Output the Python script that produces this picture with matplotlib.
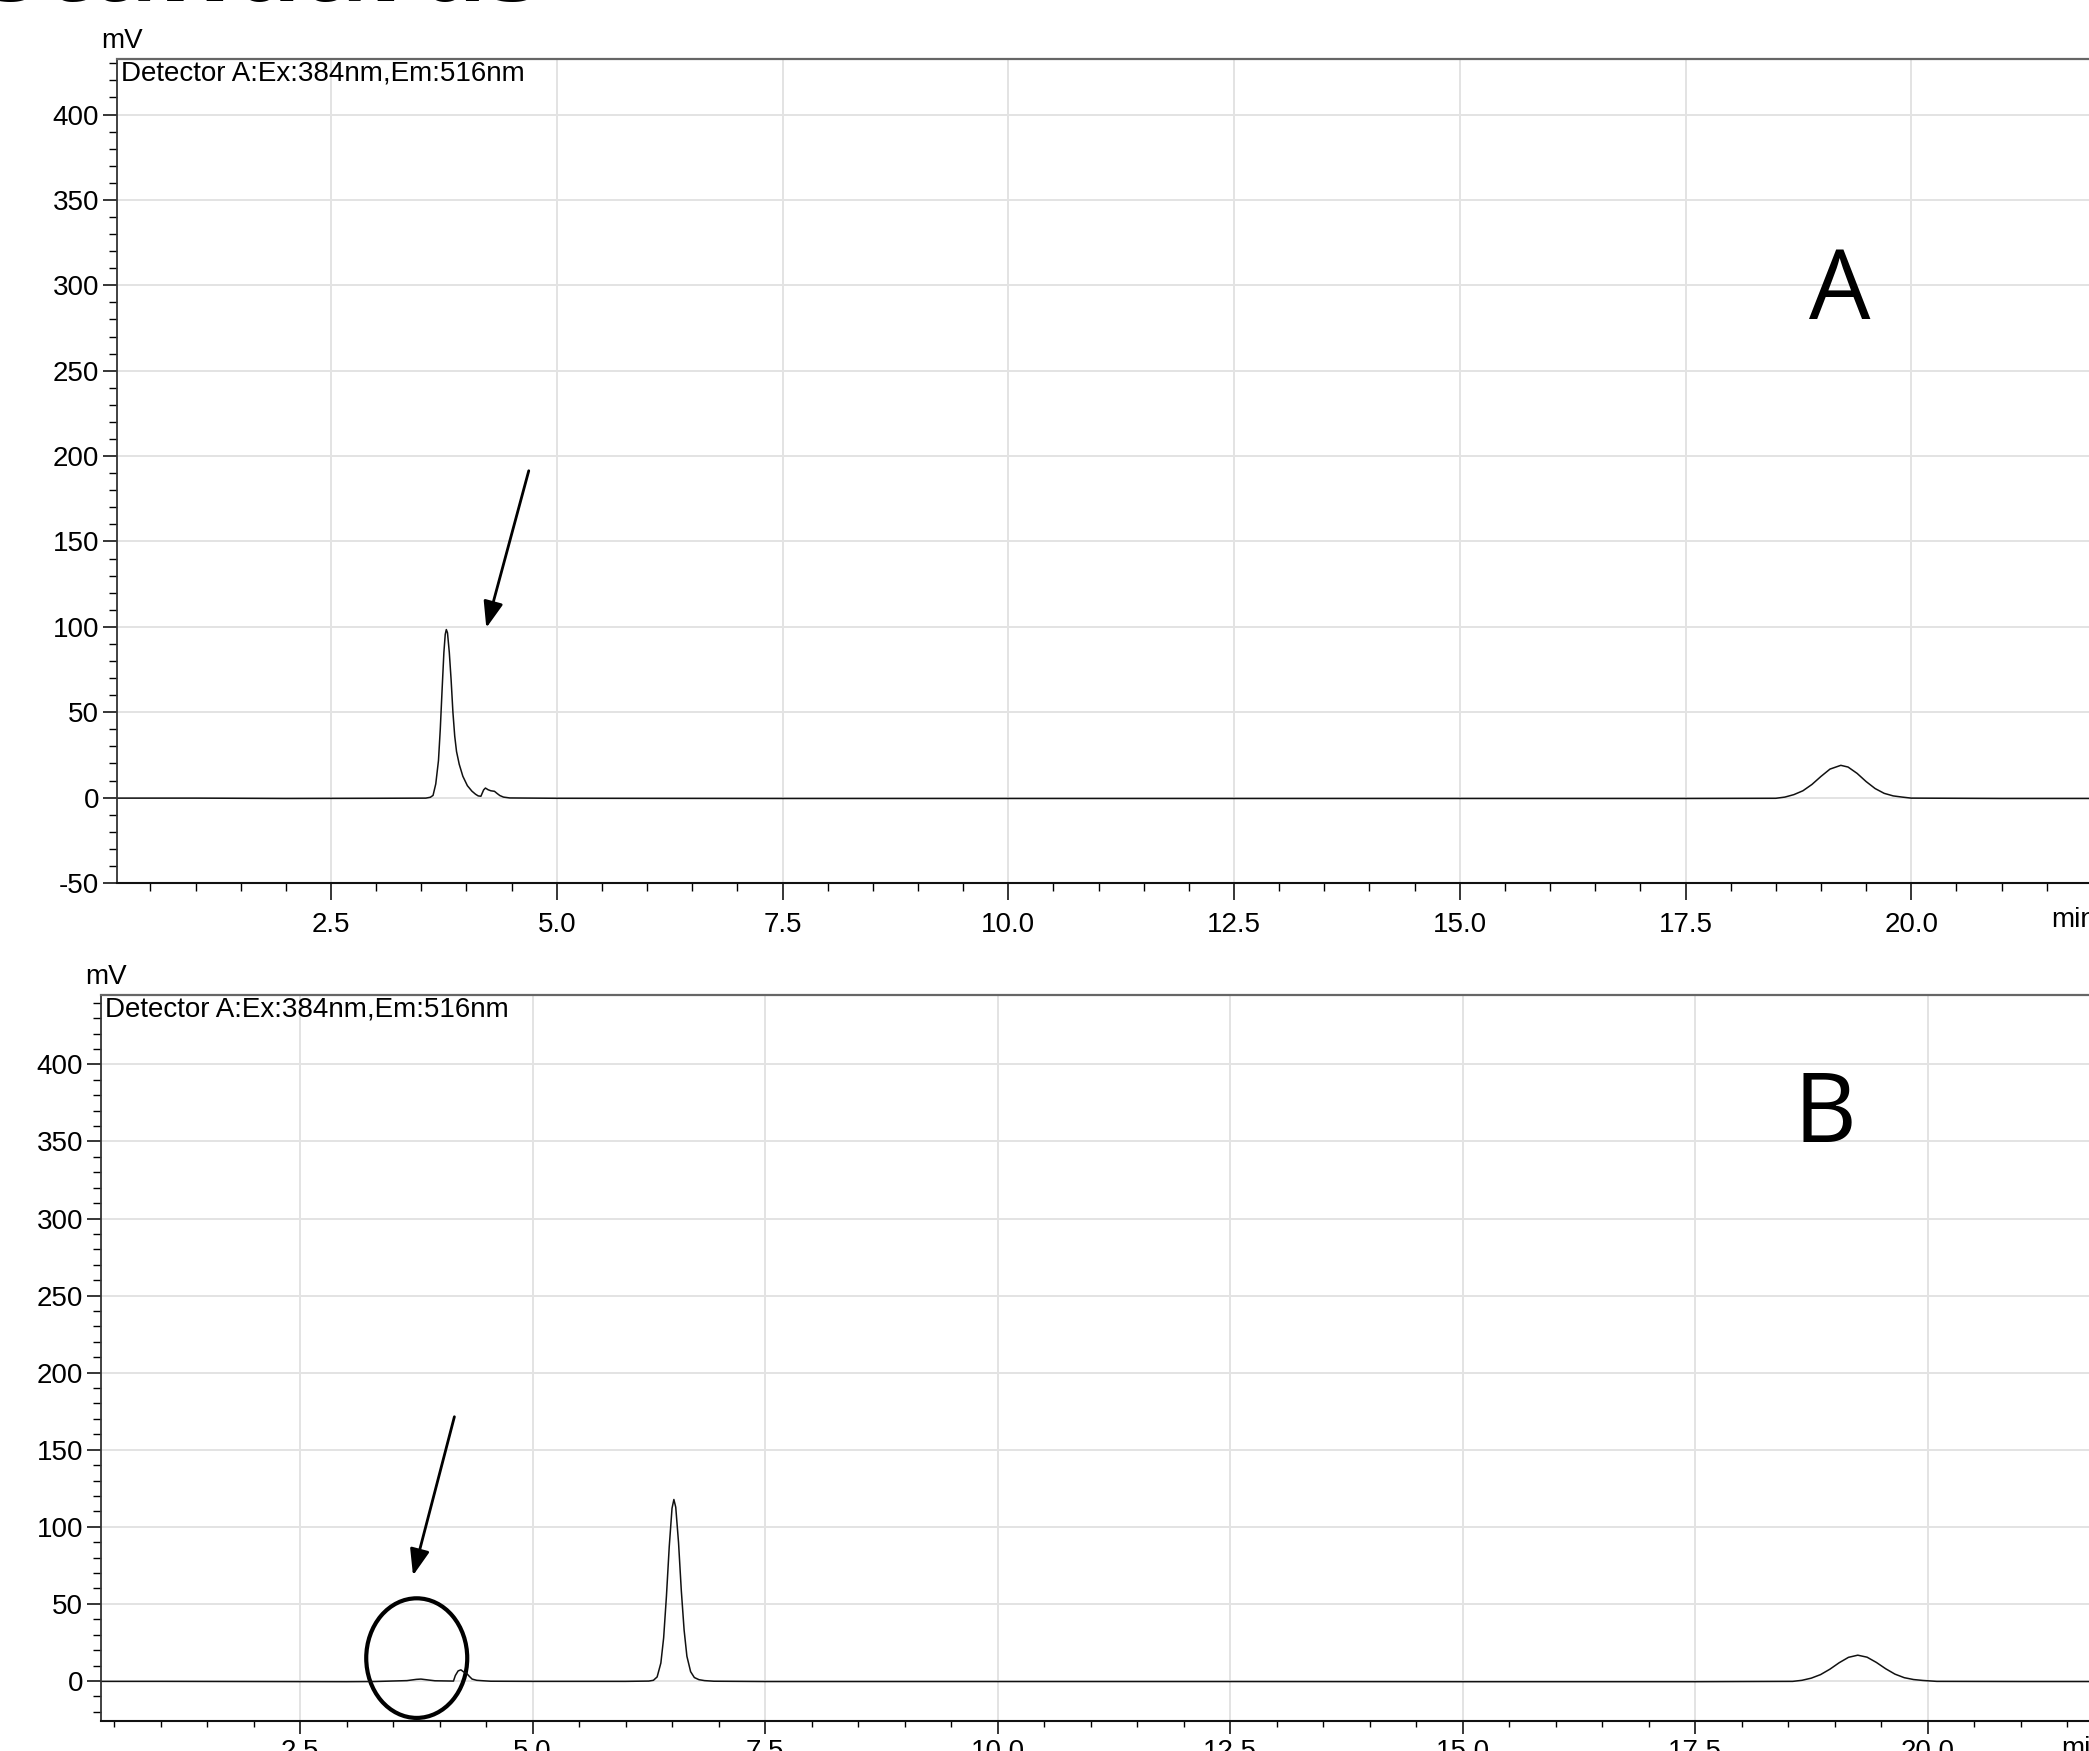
import matplotlib
matplotlib.use("Agg")
import matplotlib.pyplot as plt
from matplotlib.patches import Ellipse
from matplotlib.ticker import MultipleLocator, FormatStrFormatter

plt.rcParams['font.family'] = ['Liberation Sans', 'DejaVu Sans']
plt.rcParams['axes.unicode_minus'] = False

a_time = [0.13, 1.0, 2.0, 3.0, 3.55,
          3.60, 3.63, 3.66, 3.69, 3.71,
          3.73, 3.75, 3.765, 3.777, 3.79,
          3.81, 3.83, 3.85, 3.87, 3.89,
          3.92, 3.96, 4.01, 4.06, 4.10,
          4.13, 4.16, 4.19, 4.21, 4.24,
          4.27, 4.31, 4.34, 4.37, 4.41,
          4.48, 5.0, 7.5, 10.0, 12.5,
          15.0, 17.5, 18.5, 18.6, 18.7,
          18.8, 18.9, 19.0, 19.1, 19.22,
          19.3, 19.4, 19.5, 19.6, 19.7,
          19.8, 19.9, 20.0, 21.0, 22.5]
a_mv = [-0.3, -0.3, -0.5, -0.4, -0.3,
        0.2, 1.3, 8.0, 21.7, 40,
        63, 85, 95.6, 98.4, 96.5,
        85, 69, 50, 36, 27,
        19.5, 12.5, 7.0, 3.8, 2.0,
        1.0, 0.8, 4.5, 5.6, 4.6,
        4.0, 3.7, 2.4, 1.2, 0.3,
        -0.2, -0.4, -0.5, -0.5, -0.5,
        -0.5, -0.5, -0.4, 0.3, 1.75,
        4.0, 7.7, 12.4, 16.7, 18.9,
        17.9, 14.2, 9.4, 5.3, 2.5,
        1.0, 0.3, -0.3, -0.5, -0.5]

# trace B
b_time = [0.36, 1.0, 2.0, 3.0, 3.3,
          3.65, 3.75, 3.80, 3.88, 3.95,
          4.15, 4.17, 4.20, 4.23, 4.26,
          4.29, 4.32, 4.35, 4.40, 4.47,
          4.55, 5.0, 6.0, 6.25, 6.30,
          6.34, 6.38, 6.41, 6.44, 6.47,
          6.50, 6.52, 6.54, 6.57, 6.60,
          6.63, 6.66, 6.70, 6.74, 6.79,
          6.85, 6.95, 7.5, 10.0, 12.5,
          15.0, 17.5, 18.55, 18.65, 18.75,
          18.85, 18.95, 19.05, 19.15, 19.25,
          19.35, 19.45, 19.55, 19.65, 19.75,
          19.85, 19.95, 20.1, 21.0, 22.5]
b_mv = [-0.3, -0.3, -0.4, -0.5, -0.4,
        0.2, 1.0, 1.2, 0.6, 0.1,
        -0.1, 3.5, 6.5, 7.2, 5.8,
        5.0, 3.0, 1.2, 0.4, 0.1,
        -0.2, -0.3, -0.3, -0.1, 0.4,
        2.6, 11.6, 28, 55, 87,
        112, 117.7, 112.7, 89.8, 58.5,
        33, 16, 6, 2.2, 0.8,
        0.2, -0.2, -0.4, -0.4, -0.4,
        -0.5, -0.5, -0.3, 0.4, 1.8,
        4.1, 7.6, 11.8, 15.3, 16.7,
        15.4, 12.0, 7.9, 4.4, 2.1,
        0.9, 0.3, -0.3, -0.4, -0.4]

detector = "Detector A:Ex:384nm,Em:516nm"
panel_labels = ["A", "B"]

W, H = 2089, 1751
fig = plt.figure(figsize=(W / 100, H / 100), dpi=100)

# cropped heading at the very top of the screenshot
fig.text(-0.008, 1 - 1 / H, "Standards", fontsize=80, fontweight='bold',
         family=['Open Sans', 'DejaVu Sans'], va='baseline', ha='left')

# axes boxes in pixels
axA = fig.add_axes([117 / W, 1 - 883 / H, (22.5 - 0.13) * 90.3 / W, (883 - 59) / H])
axB = fig.add_axes([101 / W, 1 - 1721 / H, (22.5 - 0.36) * 93.0 / W, (1721 - 995) / H])


def style(ax, xmin, ylim, xtick_len, xtick_pad):
    ax.set_xlim(xmin, 22.5)
    ax.set_ylim(*ylim)
    ax.xaxis.set_major_locator(MultipleLocator(2.5))
    ax.xaxis.set_minor_locator(MultipleLocator(0.5))
    ax.xaxis.set_major_formatter(FormatStrFormatter('%.1f'))
    ax.yaxis.set_major_locator(MultipleLocator(50))
    ax.yaxis.set_minor_locator(MultipleLocator(10))
    ax.yaxis.set_major_formatter(FormatStrFormatter('%d'))
    ax.grid(True, which='major', color='#e3e3e3', lw=1.4)
    ax.set_axisbelow(True)
    ax.tick_params(axis='x', which='major', direction='out', length=xtick_len, width=1.1,
                   pad=xtick_pad, labelsize=20)
    ax.tick_params(axis='x', which='minor', direction='out', length=xtick_len / 2, width=1.0)
    ax.tick_params(axis='y', which='major', direction='out', length=10, width=1.1,
                   pad=3, labelsize=20)
    ax.tick_params(axis='y', which='minor', direction='out', length=5.5, width=1.0)
    ax.spines['right'].set_visible(False)
    ax.spines['top'].set_color('#666666')
    ax.spines['top'].set_linewidth(1.6)
    ax.spines['left'].set_color('#333333')
    ax.spines['left'].set_linewidth(1.3)
    ax.spines['bottom'].set_color('#111111')
    ax.spines['bottom'].set_linewidth(1.5)
    ax.annotate("mV", xy=(0, 1), xycoords='axes fraction', xytext=(-11.5, 13),
                textcoords='offset points', ha='left', va='center', fontsize=20)
    ax.annotate(detector, xy=(0, 1), xycoords='axes fraction', xytext=(3, -1),
                textcoords='offset points', ha='left', va='top', fontsize=20)


style(axA, 0.13, (-50, 432.5), 12, 9)
style(axB, 0.36, (-26, 445), 9, 4)

axA.plot(a_time, a_mv, color='#111111', lw=1.1)
axB.plot(b_time, b_mv, color='#111111', lw=1.1)

axA.annotate("min", xy=(21.55, 0), xycoords=('data', 'axes fraction'), xytext=(0, -26.5),
             textcoords='offset points', ha='left', va='center', fontsize=20,
             annotation_clip=False)
axB.annotate("min", xy=(21.44, 0), xycoords=('data', 'axes fraction'), xytext=(0, -20),
             textcoords='offset points', ha='left', va='center', fontsize=20,
             annotation_clip=False)

# panel letters
axA.text(19.21, 295, panel_labels[0], fontsize=70, family=['Open Sans', 'DejaVu Sans'],
         ha='center', va='center')
axB.text(18.90, 366, panel_labels[1], fontsize=70, family=['Open Sans', 'DejaVu Sans'],
         ha='center', va='center')

# arrows
arrow = dict(arrowstyle='-|>,head_length=0.8,head_width=0.3', lw=2.0, color='black',
             mutation_scale=20, shrinkA=0, shrinkB=0)
axA.annotate('', xy=(4.22, 99.4), xytext=(4.69, 191.4), arrowprops=arrow)
axB.annotate('', xy=(3.715, 68.4), xytext=(4.16, 171.4), arrowprops=arrow)

# circled region
axB.add_patch(Ellipse((3.755, 14.8), width=1.086, height=77.6, fill=False,
                      lw=3.0, edgecolor='black', clip_on=False))

fig.savefig('out.png', dpi=100)
plt.close(fig)
